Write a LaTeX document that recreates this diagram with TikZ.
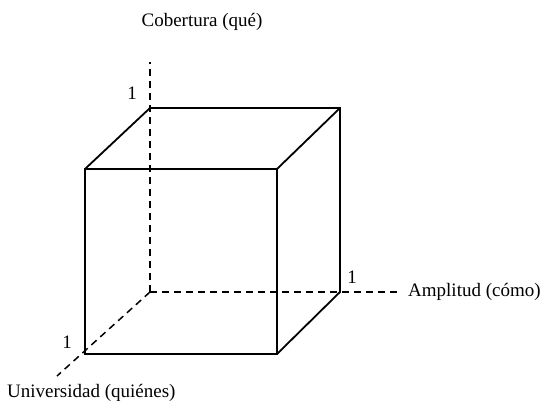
\documentclass[tikz,border=0pt]{standalone}
\usepackage{fontspec}
\setmainfont{Liberation Serif}
\begin{document}
\begin{tikzpicture}[x=1pt,y=-1pt,
  edge/.style={line width=1.8pt,line join=miter},
  axis/.style={line width=1.5pt,dash pattern=on 7pt off 5pt},
  lbl/.style={font=\fontsize{19}{21}\selectfont,inner sep=0pt}]
\useasboundingbox (0,0) rectangle (542,401);
% back face corners
\coordinate (O) at (150,292);
\coordinate (BTL) at (150,108);
\coordinate (BTR) at (340,108);
\coordinate (BBR) at (340,292);
% front face corners
\coordinate (FTL) at (85,169);
\coordinate (FTR) at (277,169);
\coordinate (FBR) at (277,354);
\coordinate (FBL) at (85,354);
% axis ends
\coordinate (Ztop) at (150,62);
\coordinate (Xend) at (400,292);
\coordinate (Yend) at (57,376);
% axes (dashed)
\draw[axis] (O) -- (Ztop);
\draw[axis] (O) -- (Xend);
\draw[axis] (O) -- (Yend);
% cube
\draw[edge] (FTL) rectangle (FBR);
\draw[edge] (FTL) -- (BTL) -- (BTR) -- (BBR) -- (FBR);
\draw[edge] (FTR) -- (BTR);
% labels
\node[lbl] (cob) at (202,22) {Cobertura (qué)};
\node[lbl] (one1) at (132,93) {1};
\node[lbl] (one2) at (352,277) {1};
\node[lbl,anchor=west] (amp) at (408,292) {Amplitud (cómo)};
\node[lbl] (one3) at (67,342) {1};
\node[lbl,anchor=west] (uni) at (7,393) {Universidad (quiénes)};
\end{tikzpicture}
\end{document}
